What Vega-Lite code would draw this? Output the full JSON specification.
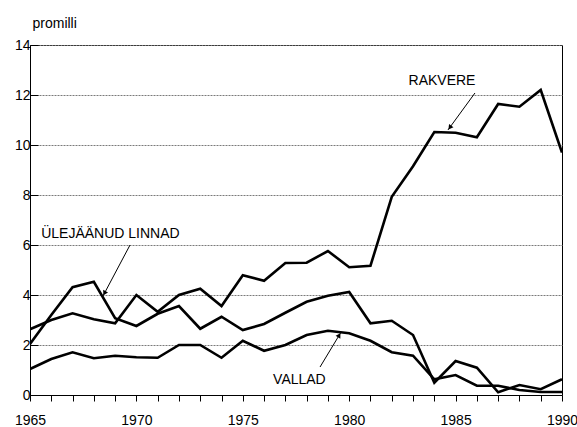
{
  "$schema": "https://vega.github.io/schema/vega-lite/v6.json",
  "width": 532,
  "height": 350,
  "autosize": {"type": "none"},
  "padding": {"left": 30, "top": 45, "right": 15, "bottom": 32},
  "config": {
    "font": "Liberation Sans",
    "view": {"stroke": "black", "strokeWidth": 1},
    "axis": {
      "labelFont": "Liberation Sans",
      "labelFontSize": 14,
      "labelColor": "black",
      "domainColor": "black",
      "tickColor": "black",
      "titleFont": "Liberation Sans",
      "titleColor": "black",
      "labelOverlap": false
    },
    "axisX": {"labelOverlap": false, "labelFlush": false}
  },
  "datasets": {
    "series": [
      {"series": "Rakvere", "year": 1965, "value": 2.63},
      {"series": "Rakvere", "year": 1966, "value": 3.0},
      {"series": "Rakvere", "year": 1967, "value": 3.27},
      {"series": "Rakvere", "year": 1968, "value": 3.03},
      {"series": "Rakvere", "year": 1969, "value": 2.87},
      {"series": "Rakvere", "year": 1970, "value": 4.0},
      {"series": "Rakvere", "year": 1971, "value": 3.33},
      {"series": "Rakvere", "year": 1972, "value": 4.0},
      {"series": "Rakvere", "year": 1973, "value": 4.25},
      {"series": "Rakvere", "year": 1974, "value": 3.56},
      {"series": "Rakvere", "year": 1975, "value": 4.79},
      {"series": "Rakvere", "year": 1976, "value": 4.57},
      {"series": "Rakvere", "year": 1977, "value": 5.28},
      {"series": "Rakvere", "year": 1978, "value": 5.29},
      {"series": "Rakvere", "year": 1979, "value": 5.76},
      {"series": "Rakvere", "year": 1980, "value": 5.11},
      {"series": "Rakvere", "year": 1981, "value": 5.17},
      {"series": "Rakvere", "year": 1982, "value": 7.93},
      {"series": "Rakvere", "year": 1983, "value": 9.15},
      {"series": "Rakvere", "year": 1984, "value": 10.52},
      {"series": "Rakvere", "year": 1985, "value": 10.49},
      {"series": "Rakvere", "year": 1986, "value": 10.31},
      {"series": "Rakvere", "year": 1987, "value": 11.64},
      {"series": "Rakvere", "year": 1988, "value": 11.53},
      {"series": "Rakvere", "year": 1989, "value": 12.2},
      {"series": "Rakvere", "year": 1990, "value": 9.7},
      {"series": "Ülejäänud linnad", "year": 1965, "value": 2.04},
      {"series": "Ülejäänud linnad", "year": 1966, "value": 3.2},
      {"series": "Ülejäänud linnad", "year": 1967, "value": 4.31},
      {"series": "Ülejäänud linnad", "year": 1968, "value": 4.53},
      {"series": "Ülejäänud linnad", "year": 1969, "value": 3.07},
      {"series": "Ülejäänud linnad", "year": 1970, "value": 2.76},
      {"series": "Ülejäänud linnad", "year": 1971, "value": 3.25},
      {"series": "Ülejäänud linnad", "year": 1972, "value": 3.56},
      {"series": "Ülejäänud linnad", "year": 1973, "value": 2.65},
      {"series": "Ülejäänud linnad", "year": 1974, "value": 3.13},
      {"series": "Ülejäänud linnad", "year": 1975, "value": 2.6},
      {"series": "Ülejäänud linnad", "year": 1976, "value": 2.84},
      {"series": "Ülejäänud linnad", "year": 1977, "value": 3.29},
      {"series": "Ülejäänud linnad", "year": 1978, "value": 3.73},
      {"series": "Ülejäänud linnad", "year": 1979, "value": 3.97},
      {"series": "Ülejäänud linnad", "year": 1980, "value": 4.12},
      {"series": "Ülejäänud linnad", "year": 1981, "value": 2.87},
      {"series": "Ülejäänud linnad", "year": 1982, "value": 2.97},
      {"series": "Ülejäänud linnad", "year": 1983, "value": 2.4},
      {"series": "Ülejäänud linnad", "year": 1984, "value": 0.49},
      {"series": "Ülejäänud linnad", "year": 1985, "value": 1.36},
      {"series": "Ülejäänud linnad", "year": 1986, "value": 1.09},
      {"series": "Ülejäänud linnad", "year": 1987, "value": 0.11},
      {"series": "Ülejäänud linnad", "year": 1988, "value": 0.4},
      {"series": "Ülejäänud linnad", "year": 1989, "value": 0.23},
      {"series": "Ülejäänud linnad", "year": 1990, "value": 0.63},
      {"series": "Vallad", "year": 1965, "value": 1.04},
      {"series": "Vallad", "year": 1966, "value": 1.44},
      {"series": "Vallad", "year": 1967, "value": 1.71},
      {"series": "Vallad", "year": 1968, "value": 1.47},
      {"series": "Vallad", "year": 1969, "value": 1.57},
      {"series": "Vallad", "year": 1970, "value": 1.51},
      {"series": "Vallad", "year": 1971, "value": 1.49},
      {"series": "Vallad", "year": 1972, "value": 2.0},
      {"series": "Vallad", "year": 1973, "value": 2.0},
      {"series": "Vallad", "year": 1974, "value": 1.49},
      {"series": "Vallad", "year": 1975, "value": 2.17},
      {"series": "Vallad", "year": 1976, "value": 1.77},
      {"series": "Vallad", "year": 1977, "value": 2.0},
      {"series": "Vallad", "year": 1978, "value": 2.4},
      {"series": "Vallad", "year": 1979, "value": 2.57},
      {"series": "Vallad", "year": 1980, "value": 2.47},
      {"series": "Vallad", "year": 1981, "value": 2.17},
      {"series": "Vallad", "year": 1982, "value": 1.71},
      {"series": "Vallad", "year": 1983, "value": 1.57},
      {"series": "Vallad", "year": 1984, "value": 0.63},
      {"series": "Vallad", "year": 1985, "value": 0.8},
      {"series": "Vallad", "year": 1986, "value": 0.37},
      {"series": "Vallad", "year": 1987, "value": 0.37},
      {"series": "Vallad", "year": 1988, "value": 0.2},
      {"series": "Vallad", "year": 1989, "value": 0.12},
      {"series": "Vallad", "year": 1990, "value": 0.12}
    ],
    "labels": [
      {"label": "RAKVERE", "year": 1984.36, "value": 12.56},
      {"label": "ÜLEJÄÄNUD LINNAD", "year": 1968.78, "value": 6.46},
      {"label": "VALLAD", "year": 1977.66, "value": 0.6}
    ],
    "arrows": [
      {"label": "RAKVERE", "year": 1985.91, "value": 12.08, "year2": 1984.64, "value2": 10.6},
      {"label": "ÜLEJÄÄNUD LINNAD", "year": 1969.7, "value": 6.0, "year2": 1968.43, "value2": 3.96},
      {"label": "VALLAD", "year": 1978.63, "value": 1.12, "year2": 1979.6, "value2": 2.49}
    ],
    "heads": [
      {"label": "RAKVERE", "year": 1984.73, "value": 10.7, "angle": 216},
      {"label": "ÜLEJÄÄNUD LINNAD", "year": 1968.5, "value": 4.07, "angle": 208},
      {"label": "VALLAD", "year": 1979.53, "value": 2.39, "angle": 31}
    ]
  },
  "encoding": {
    "x": {
      "field": "year", "type": "quantitative",
      "scale": {"domain": [1965, 1990], "nice": false, "zero": false},
      "axis": {
        "values": [1965, 1966, 1967, 1968, 1969, 1970, 1971, 1972, 1973, 1974, 1975, 1976, 1977, 1978, 1979, 1980, 1981, 1982, 1983, 1984, 1985, 1986, 1987, 1988, 1989, 1990],
        "labelExpr": "datum.value % 5 == 0 ? datum.label : ''",
        "format": "d",
        "grid": false,
        "tickSize": 6,
        "labelPadding": 12,
        "labelFlush": false,
        "labelOverlap": false,
        "title": null
      }
    },
    "y": {
      "field": "value", "type": "quantitative",
      "scale": {"domain": [0, 14], "nice": false},
      "axis": {
        "values": [0, 2, 4, 6, 8, 10, 12, 14],
        "grid": true,
        "gridColor": "#7a7a7a",
        "gridDash": [2, 1],
        "tickSize": -8,
        "labelPadding": 8,
        "title": "promilli",
        "titleAngle": 0,
        "titleAlign": "left",
        "titleBaseline": "alphabetic",
        "titleX": 2,
        "titleY": -18,
        "titleFontSize": 14,
        "titleFontWeight": "normal"
      }
    }
  },
  "layer": [
    {
      "data": {"name": "series"},
      "mark": {"type": "line", "color": "black", "strokeWidth": 2.6, "strokeJoin": "miter", "clip": true},
      "encoding": {
        "detail": {"field": "series", "type": "nominal"}
      }
    },
    {
      "data": {"name": "labels"},
      "mark": {"type": "text", "color": "black", "fontSize": 14, "font": "Liberation Sans", "align": "center", "baseline": "middle"},
      "encoding": {
        "text": {"field": "label"}
      }
    },
    {
      "data": {"name": "arrows"},
      "mark": {"type": "rule", "color": "black", "strokeWidth": 1},
      "encoding": {
        "x2": {"field": "year2"},
        "y2": {"field": "value2"}
      }
    },
    {
      "data": {"name": "heads"},
      "mark": {"type": "point", "shape": "triangle-up", "filled": true, "color": "black", "size": 30, "opacity": 1},
      "encoding": {
        "angle": {"field": "angle", "type": "quantitative", "scale": null}
      }
    }
  ]
}
